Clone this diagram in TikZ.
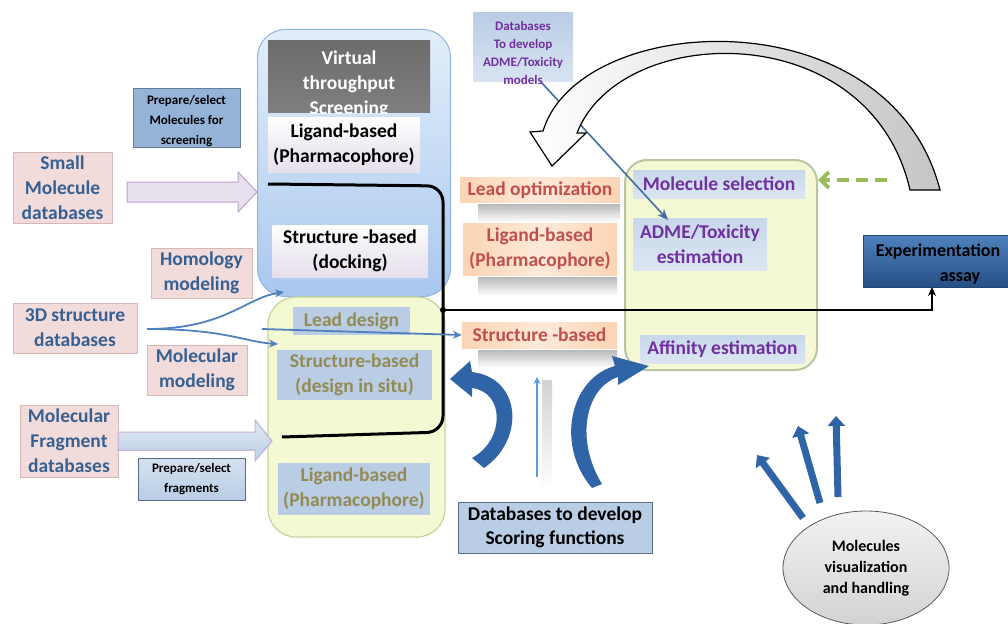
\documentclass[tikz,border=0pt]{standalone}
\usepackage{fontspec}
\setmainfont{Carlito}
\usetikzlibrary{arrows.meta,shapes.geometric}
\definecolor{vtsTop}{HTML}{E3EEFA}
\definecolor{vtsBot}{HTML}{A9C8EE}
\definecolor{vtsEdge}{HTML}{8EB4E3}
\definecolor{titleGray}{HTML}{7F7F7F}
\definecolor{lav}{HTML}{E6E0EC}
\definecolor{grnFill}{HTML}{F4F9D4}
\definecolor{grnEdge}{HTML}{C3D69B}
\definecolor{steel}{HTML}{B9CDE5}
\definecolor{oliveTxt}{HTML}{948A54}
\definecolor{peach}{HTML}{FDE9D9}
\definecolor{peachEdge}{HTML}{FBD4B4}
\definecolor{redTxt}{HTML}{C0504D}
\definecolor{purpTxt}{HTML}{7030A0}
\definecolor{blueTxt}{HTML}{366092}
\definecolor{pinkBg}{HTML}{F2DCDB}
\definecolor{pinkEdge}{HTML}{D8B8B6}
\definecolor{prepBlue}{HTML}{95B3D7}
\definecolor{arrBlue}{HTML}{2F64A6}
\definecolor{lineBlue}{HTML}{4F81BD}
\definecolor{lightLine}{HTML}{5B9BE0}
\definecolor{dashGreen}{HTML}{9BBB59}
\newcommand\myfsL{\fontsize{19.5}{25}\selectfont}
\newcommand\myfsM{\fontsize{19.5}{25}\selectfont}
\newcommand\myfsX{\fontsize{18}{25}\selectfont}
\newcommand\myfsC{\fontsize{19.5}{24}\selectfont}
\newcommand\myfsS{\fontsize{13}{20}\selectfont}
\newcommand\myfsT{\fontsize{13}{18}\selectfont}
\newcommand\myfsE{\fontsize{16}{21}\selectfont}
\begin{document}
\begin{tikzpicture}[x=1pt,y=-1pt,
  lbl/.style={inner sep=0pt, align=center, font=\bfseries},
  pinkbox/.style={lbl, fill=pinkBg, draw=pinkEdge, line width=0.6pt, text=blueTxt, font=\bfseries\myfsL},
  innerbox/.style={lbl, top color=white, bottom color=lav, middle color=lav!60, text=black, font=\bfseries\myfsL},
  steelbox/.style={lbl, fill=steel, text=oliveTxt, font=\bfseries\myfsL},
  peachbox/.style={lbl, left color=peachEdge, right color=peachEdge, middle color=peach, text=redTxt, font=\bfseries\myfsL},
  purpbox/.style={lbl, top color=steel!80!white, bottom color=steel!50!white, text=purpTxt, font=\bfseries\myfsL},
  shadowbar/.style={top color=gray!55, bottom color=white, draw=none},
  thinarrow/.style={line width=1.8pt, draw=lineBlue, -{Stealth[length=9pt,width=8pt]}},
  fatarrow/.style={line width=7pt, draw=arrBlue, -{Triangle[length=10pt,width=17pt]}}
]
\useasboundingbox (0,0) rectangle (1008,623);

% ---------- containers ----------
\node[draw=vtsEdge, line width=1pt, rounded corners=28pt, top color=vtsTop, bottom color=vtsBot,
      minimum width=193pt, minimum height=267pt, inner sep=0pt] (vts) at (354,163) {};
\node[draw=grnEdge, line width=1.2pt, rounded corners=28pt, fill=grnFill,
      minimum width=177pt, minimum height=240pt, inner sep=0pt] (gc) at (356.5,417) {};
\node[draw=grnEdge!80!black!70, line width=2pt, rounded corners=22pt, fill=grnFill,
      minimum width=192pt, minimum height=210pt, inner sep=0pt] (rc) at (721,265) {};

% ---------- blue container content ----------
\node[lbl, top color=titleGray!85!black, bottom color=titleGray,
      minimum width=162pt, minimum height=72pt] (vtsT) at (349,77) {};
\begin{scope}
  \clip (vtsT.north west) rectangle (vtsT.south east);
  \node[lbl, text=white, font=\bfseries\myfsM] (vtsTxt) at (349,84) {Virtual\\throughput\\Screening};
\end{scope}
\node[innerbox, minimum width=152pt, minimum height=54pt] (lig1) at (344,145) {Ligand-based\\(Pharmacophore)};
\node[innerbox, minimum width=155pt, minimum height=52pt] (sdock) at (350,251) {Structure -based\\(docking)};

% ---------- green container content ----------
\node[steelbox, minimum width=117pt, minimum height=28pt] (lead) at (351.5,321) {Lead design};
\node[steelbox, minimum width=155pt, minimum height=50pt] (situ) at (354.5,375) {Structure-based\\(design in situ)};
\node[steelbox, minimum width=152pt, minimum height=52pt] (lig2) at (354,489) {Ligand-based\\(Pharmacophore)};

% ---------- middle peach labels with shadows ----------
\fill[shadowbar] (478,204) rectangle (620,222);
\fill[shadowbar] (478,277) rectangle (617,296);
\fill[shadowbar] (478,350) rectangle (617,368);
\node[peachbox, minimum width=160pt, minimum height=25pt] (lopt) at (540,190) {Lead optimization};
\node[peachbox, minimum width=154pt, minimum height=52pt] (lig3) at (540,249) {Ligand-based\\(Pharmacophore)};
\node[peachbox, minimum width=155pt, minimum height=26pt] (sbm) at (539.5,335) {Structure -based};

% ---------- right container content ----------
\node[purpbox, minimum width=172pt, minimum height=28pt] (msel) at (719,184) {Molecule selection};
\node[purpbox, minimum width=134pt, minimum height=52pt] (adme) at (700,244) {ADME/Toxicity\\estimation};
\node[purpbox, minimum width=165pt, minimum height=28pt] (aff) at (722.5,349) {Affinity estimation};

% ---------- experimentation ----------
\node[lbl, top color=lineBlue, bottom color=arrBlue!80!black, draw=arrBlue!70!black, line width=0.6pt,
      minimum width=194pt, minimum height=52pt] (expt) at (960,261) {};
\node[lbl, text=black, font=\bfseries\myfsX] (exptTxt) at (938,264) {Experimentation\\\hspace*{44pt}assay};

% ---------- top databases ----------
\node[lbl, top color=steel, bottom color=steel!55!white,
      minimum width=100pt, minimum height=69pt] (admedb) at (523,47.5) {};
\node[lbl, text=purpTxt, font=\bfseries\myfsT] (admeTxt) at (523,53) {Databases\\To develop\\ADME/Toxicity\\models};

% ---------- left side ----------
\node[lbl, fill=prepBlue, draw=prepBlue!70!black, line width=0.8pt,
      minimum width=107pt, minimum height=59pt] (prepmol) at (186.5,117.5) {};
\node[lbl, font=\bfseries\myfsS] (prepmolTxt) at (186.5,121) {Prepare/select\\Molecules for\\screening};
\node[pinkbox, minimum width=99pt, minimum height=71pt] (smalldb) at (62.5,187.5) {Small\\Molecule\\databases};
\node[pinkbox, minimum width=101pt, minimum height=50pt] (homol) at (201.5,273) {Homology\\modeling};
\node[pinkbox, minimum width=124pt, minimum height=50pt] (d3) at (75,328) {3D structure\\databases};
\node[pinkbox, minimum width=100pt, minimum height=50pt] (molmod) at (197,370) {Molecular\\modeling};
\node[pinkbox, minimum width=98pt, minimum height=72pt] (fragdb) at (69,441) {Molecular\\Fragment\\databases};
\node[lbl, top color=steel!60!white, bottom color=steel, draw=prepBlue!60!black, line width=0.8pt, font=\bfseries\myfsS,
      minimum width=107pt, minimum height=42pt] (prepfrag) at (191.5,479) {Prepare/select\\fragments};

% block arrows from left databases
\filldraw[fill=lav, draw=purpTxt!45, line width=1pt]
  (127,182) -- (238,182) -- (238,172) -- (257,192) -- (238,212) -- (238,202) -- (127,202) -- cycle;
\filldraw[top color=steel!40!white, bottom color=steel, draw=purpTxt!40, line width=1pt]
  (118,432) -- (255,432) -- (255,420) -- (272,441) -- (255,461) -- (255,450) -- (118,450) -- cycle;

% ---------- bottom ----------
\node[lbl, fill=steel, draw=prepBlue!60!black, line width=0.8pt, font=\bfseries\myfsC,
      minimum width=194pt, minimum height=51pt] (score) at (555,527.5) {Databases to develop\\Scoring functions};
\node[ellipse, draw=gray!70!black, line width=0.8pt, top color=gray!10, bottom color=gray!35,
      minimum width=166pt, minimum height=114pt, inner sep=0pt, align=center, font=\bfseries\myfsE] (vis) at (866,568)
      {Molecules\\visualization\\and handling};

% ---------- bracket (black) ----------
\coordinate (junc) at (443,310);
\draw[line width=3pt, rounded corners=16pt] (268,184) -- (443,186) -- (443,432) -- (282,437);
\fill (junc) circle (3pt);
\coordinate (ea) at (932,287);
\draw[line width=2pt, -{Stealth[length=9pt,width=8pt]}] (junc) -- (ea |- junc) -- (ea);

% ---------- 3D structure arrows ----------
\coordinate (d3s) at (147,329);
\coordinate (d3up) at (284,292);
\coordinate (d3dn) at (278,344);
\coordinate (hstart) at (262,329);
\draw[thinarrow] (d3s) .. controls (225,329) and (245,298) .. (d3up);
\draw[thinarrow] (d3s) .. controls (225,329) and (245,342) .. (d3dn);
\draw[thinarrow] (hstart) -- (sbm.west);

% ---------- ADME db arrow ----------
\coordinate (adbs) at (541,82);
\coordinate (admt) at (668,220);
\draw[line width=1.6pt, draw=lineBlue!85!black, -{Stealth[length=11pt,width=9pt]}] (adbs) -- (admt);

% ---------- big curved feedback arrow ----------
\filldraw[left color=white, right color=gray!45, draw=black, line width=1.2pt]
  (543,131) .. controls (580,10) and (890,-5) .. (940,190)
  -- (910,190) .. controls (870,15) and (620,22) .. (577,133)
  -- (586,133) -- (552,166) -- (530,132) -- cycle;

% ---------- green dashed arrow ----------
\coordinate (gstart) at (887,180);
\draw[dashGreen, line width=4pt, dash pattern=on 12pt off 7pt, -{Straight Barb[length=8pt,width=16pt]}] (gstart) -- (rc.east |- gstart);

% ---------- curved block arrows near scoring ----------
\fill[arrBlue] (472,458) .. controls (505,440) and (505,392) .. (472,388)
  -- (472,397) -- (450,379) -- (470,361) -- (472,372)
  .. controls (522,378) and (525,440) .. (484,468) -- cycle;
\fill[arrBlue] (592,488) .. controls (555,445) and (570,378) .. (615,366)
  -- (612,356) -- (649,366) -- (618,385) -- (618,377)
  .. controls (585,388) and (575,440) .. (602,484) -- cycle;
\fill[top color=gray!35, bottom color=white] (542,380) rectangle (552,490);
\coordinate (sb) at (537,477);
\coordinate (st) at (537,377);
\draw[line width=2.2pt, draw=lightLine, -{Stealth[length=7pt,width=7pt]}] (sb) -- (st);

% ---------- arrows from visualization ellipse ----------
\coordinate (v1) at (803,518);
\coordinate (v2) at (820,503);
\coordinate (v3) at (838,497);
\coordinate (w1) at (757,455);
\coordinate (w2) at (798,426);
\coordinate (w3) at (836,416);
\draw[fatarrow] (v1) -- (w1);
\draw[fatarrow] (v2) -- (w2);
\draw[fatarrow] (v3) -- (w3);
\end{tikzpicture}
\end{document}
